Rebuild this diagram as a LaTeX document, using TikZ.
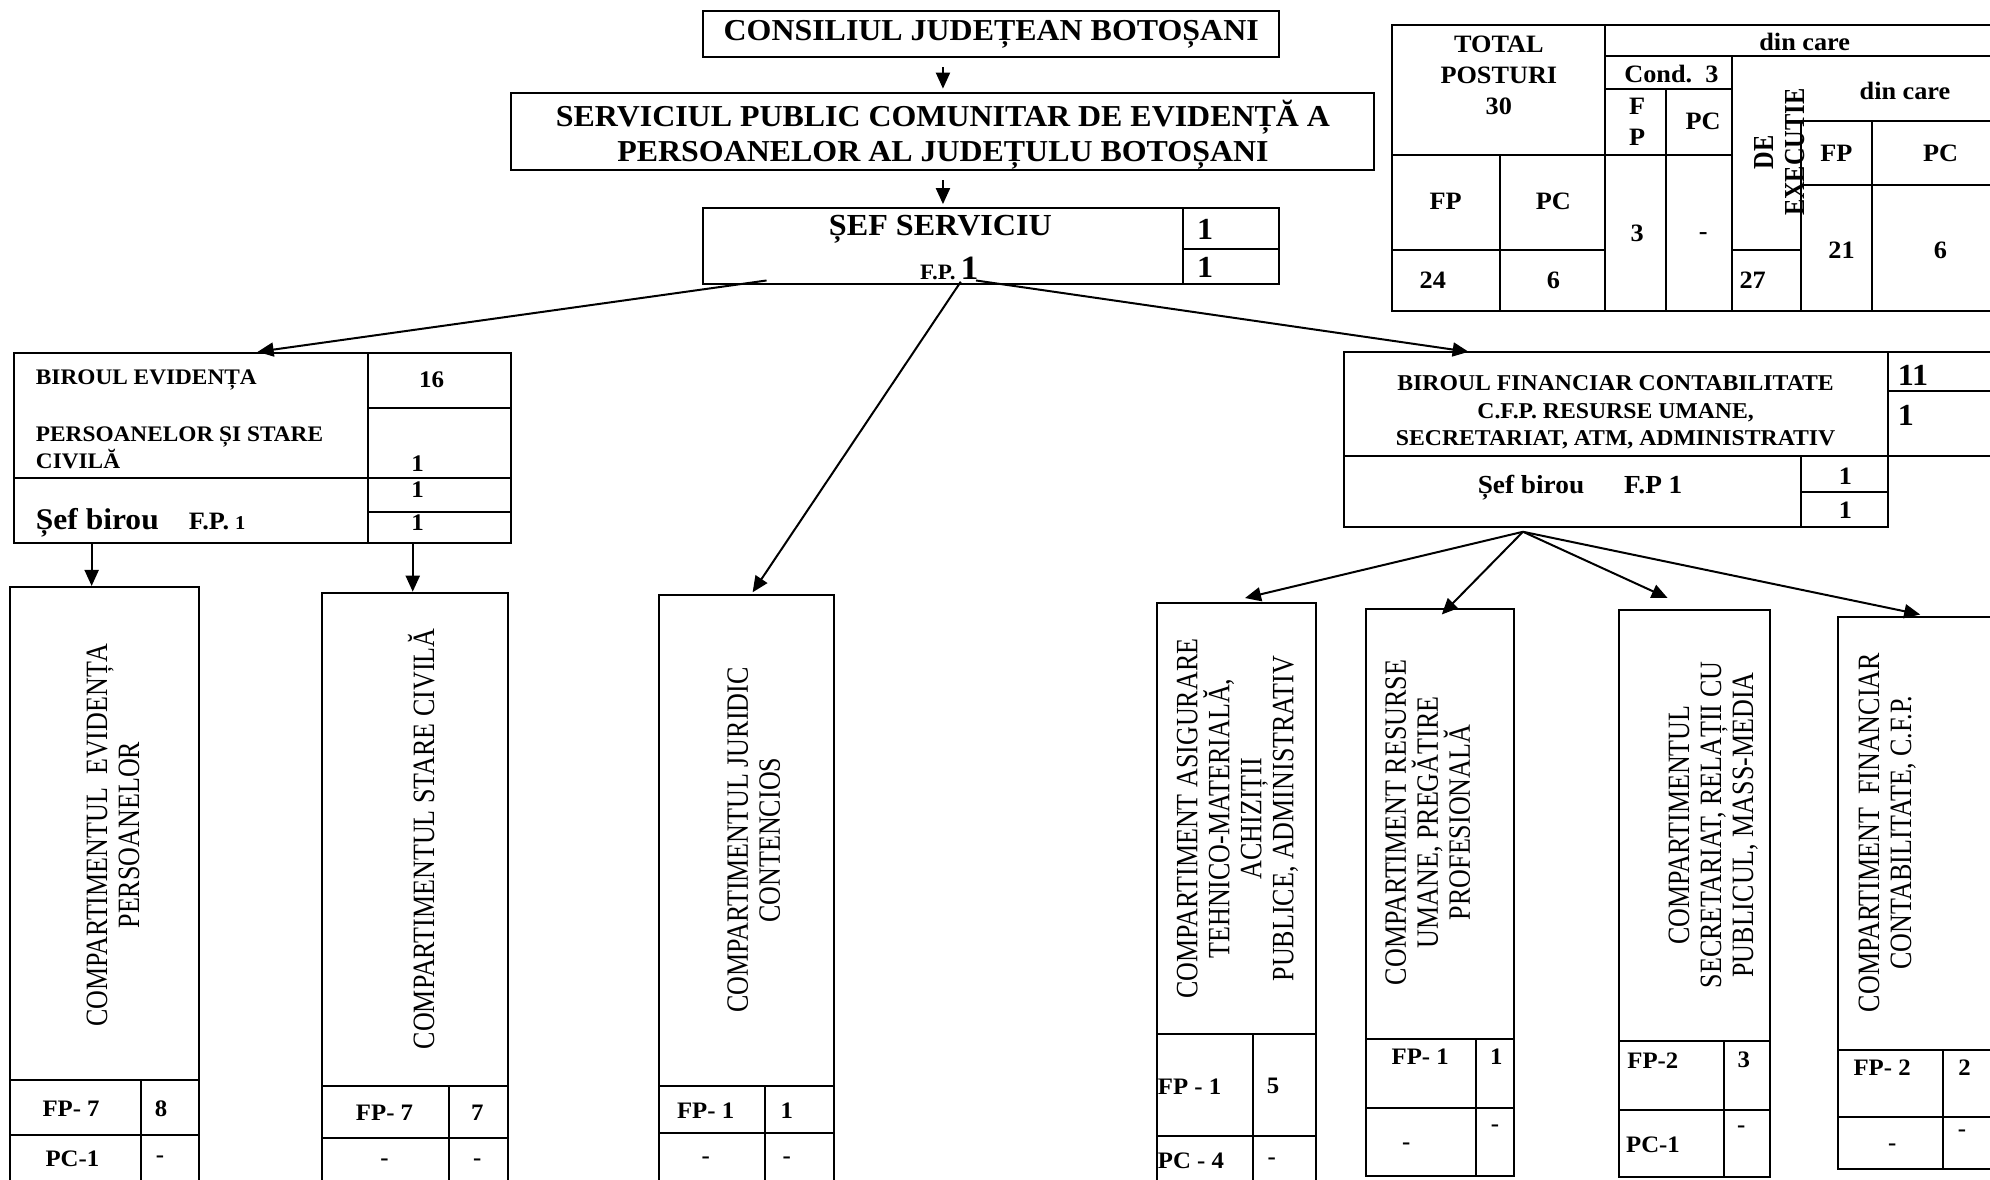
\documentclass[tikz,border=0pt]{standalone}
\usepackage{fontspec}
\setmainfont[FakeStretch=1.05]{Liberation Serif}
\newfontfamily\rotf[FakeStretch=0.84]{Liberation Serif}
\usetikzlibrary{arrows.meta,fit,calc}
\newcommand\setfz[2]{\fontsize{#1}{#2}\selectfont}
\begin{document}
\begin{tikzpicture}[x=0.6345pt,y=-0.6345pt,
  box/.style={draw, line width=1pt, inner sep=0pt},
  ln/.style={line width=1pt},
  txt/.style={inner sep=0pt, align=center},
  arr/.style={line width=1pt, -{Triangle[length=8pt,width=7pt]}},
  vt/.style={inner sep=0pt, align=center, rotate=90, font=\rotf\setfz{15.5}{16}},
  cell/.style={inner sep=0pt, font=\bfseries\setfz{11.8}{13}},
  tb/.style={inner sep=0pt, align=center, font=\bfseries\setfz{12.5}{15.5}},
]
\path[use as bounding box] (0,0) rectangle (1568,929);
\clip (0,0) rectangle (1568,929);

% ---------- top chain ----------
\node[box, fit={(554,9)(1008,45)}] (cj) {};
\node[txt, font=\bfseries\setfz{15.2}{18}] (cjt) at (781,27) {CONSILIUL JUDEȚEAN BOTOȘANI};

\node[box, fit={(403,73)(1083,134)}] (sp) {};
\node[txt, font=\bfseries\setfz{15.2}{17.5}] (spt) at (743,106) {SERVICIUL PUBLIC COMUNITAR DE EVIDENȚĂ A\\PERSOANELOR AL JUDEȚULU BOTOȘANI};

\node[box, fit={(554,164)(1008,224)}] (sef) {};
\draw[ln] (932,164) -- (932,224);
\draw[ln] (932,196) -- (1008,196);
\node[txt, font=\bfseries\setfz{15.3}{18}] (seft) at (741,181) {ȘEF SERVICIU};
\node[txt, anchor=base, font=\bfseries] (sefp) at (748,220) {\setfz{11}{13}F.P.\hspace{2.5pt}\setfz{17}{19}1};
\node[txt, anchor=west, font=\bfseries\setfz{15.3}{18}] (sefn1) at (943,181) {1};
\node[txt, anchor=west, font=\bfseries\setfz{15.3}{18}] (sefn2) at (943,211) {1};

\draw[arr, shorten <=4.5pt, shorten >=1.5pt] (cj.south -| sp.north) -- (sp.north);
\draw[arr, shorten <=4.5pt, shorten >=1.5pt] (sp.south) -- (sp.south |- sef.north);

% ---------- summary table ----------
\node[box, fit={(1097,20)(1620,245)}] (tab) {};
\draw[ln] (1265,20) -- (1265,245);
\draw[ln] (1265,44) -- (1620,44);
\draw[ln] (1265,70) -- (1365,70);
\draw[ln] (1097,122) -- (1365,122);
\draw[ln] (1182,122) -- (1182,245);
\draw[ln] (1313,70) -- (1313,245);
\draw[ln] (1365,44) -- (1365,245);
\draw[ln] (1097,197) -- (1265,197);
\draw[ln] (1365,197) -- (1419,197);
\draw[ln] (1419,95) -- (1419,245);
\draw[ln] (1419,95) -- (1620,95);
\draw[ln] (1475,95) -- (1475,245);
\draw[ln] (1419,146) -- (1620,146);
\node[tb] (tt1) at (1181,59) {TOTAL\\POSTURI\\30};
\node[tb] (tt2) at (1422,33) {din care};
\node[tb] (tt3) at (1317,58) {Cond.\ \ 3};
\node[tb] (tt4) at (1290,96) {F\\P};
\node[tb] (tt5) at (1342,96) {PC};
\node[inner sep=0pt, align=center, rotate=90, font=\rotf\bfseries\setfz{14.5}{15.5}] (tt6) at (1402,120) {DE\\EXECUTIE};
\node[tb] (tt7) at (1501,72) {din care};
\node[tb] (tt8) at (1447,121) {FP};
\node[tb] (tt9) at (1529,121) {PC};
\node[tb] (tt10) at (1451,197) {21};
\node[tb] (tt11) at (1529,197) {6};
\node[tb] (tt12) at (1139,159) {FP};
\node[tb] (tt13) at (1224,159) {PC};
\node[tb] (tt14) at (1129,221) {24};
\node[tb] (tt15) at (1224,221) {6};
\node[tb] (tt16) at (1290,184) {3};
\node[tb] (tt17) at (1342,186) {-};
\node[tb] (tt18) at (1381,221) {27};

% ---------- Biroul evidenta ----------
\node[box, fit={(11,278)(403,428)}] (b4) {};
\draw[ln] (290,278) -- (290,428);
\draw[ln] (290,321.5) -- (403,321.5);
\draw[ln] (11,376.6) -- (403,376.6);
\draw[ln] (290,403.4) -- (403,403.4);
\node[txt, anchor=west, font=\bfseries\setfz{11.1}{13}] (b4t1) at (28,299.5) {BIROUL EVIDENȚA};
\node[txt, anchor=west, align=left, font=\bfseries\setfz{11.1}{11.2}] (b4t2) at (28,352.5) {PERSOANELOR ȘI STARE\\CIVILĂ};
\node[txt, font=\bfseries\setfz{11.9}{13}] (b4n0) at (340,299.5) {16};
\node[txt, font=\bfseries\setfz{11.9}{13}] (b4n1) at (329,365) {1};
\node[txt, font=\bfseries\setfz{11.9}{13}] (b4n2) at (329,386) {1};
\node[txt, font=\bfseries\setfz{11.9}{13}] (b4n3) at (329,412) {1};
\node[txt, anchor=west, font=\bfseries] (b4s) at (28,412) {\setfz{15}{17}Șef birou\hspace{15pt}\setfz{12.5}{14}F.P.\hspace{3pt}\setfz{9.8}{11}1};

% ---------- Biroul financiar ----------
\node[box, fit={(1059,277)(1488,415)}] (b5) {};
\node[box, fit={(1488,277)(1620,359)}] (b5r) {};
\draw[ln] (1488,308) -- (1620,308);
\draw[ln] (1059,359) -- (1488,359);
\draw[ln] (1419,359) -- (1419,415);
\draw[ln] (1419,388) -- (1488,388);
\node[txt, font=\bfseries\setfz{11.3}{13.6}] (b5t) at (1273,325) {BIROUL FINANCIAR CONTABILITATE\\C.F.P. RESURSE UMANE,\\SECRETARIAT, ATM, ADMINISTRATIV};
\node[txt, font=\bfseries\setfz{13}{15}] (b5s) at (1245,384) {Șef birou\hspace{20pt}F.P 1};
\node[txt, anchor=west, font=\bfseries\setfz{15.3}{18}] (b5n1) at (1495,296) {11};
\node[txt, anchor=west, font=\bfseries\setfz{15.3}{18}] (b5n2) at (1495,327) {1};
\node[txt, font=\bfseries\setfz{12.5}{14}] (b5n3) at (1454,375) {1};
\node[txt, font=\bfseries\setfz{12.5}{14}] (b5n4) at (1454,402) {1};

% ---------- compartments ----------
\node[box, fit={(8,462.5)(157,945)}] (c1) {};
\draw[ln] (8,851) -- (157,851);
\draw[ln] (8,894) -- (157,894);
\draw[ln] (111,851) -- (111,945);
\node[vt] (c1t) at (89,658) {COMPARTIMENTUL\ \ EVIDENȚA\\PERSOANELOR};
\node[cell] (c1a) at (56,874) {FP- 7};
\node[cell] (c1b) at (127,874) {8};
\node[cell] (c1c) at (57,913) {PC-1};
\node[cell] (c1d) at (126,913) {-};

\node[box, fit={(254,467)(400,945)}] (c2) {};
\draw[ln] (254,856) -- (400,856);
\draw[ln] (254,897) -- (400,897);
\draw[ln] (354,856) -- (354,945);
\node[vt] (c2t) at (332,661) {COMPARTIMENTUL STARE CIVILĂ};
\node[cell] (c2a) at (303,877) {FP- 7};
\node[cell] (c2b) at (376,877) {7};
\node[cell] (c2c) at (303,916) {-};
\node[cell] (c2d) at (376,916) {-};

\node[box, fit={(519,468.5)(657,945)}] (c3) {};
\draw[ln] (519,856) -- (657,856);
\draw[ln] (519,893) -- (657,893);
\draw[ln] (603,856) -- (603,945);
\node[vt] (c3t) at (594,662) {COMPARTIMENTUL JURIDIC\\CONTENCIOS};
\node[cell] (c3a) at (556,875) {FP- 1};
\node[cell] (c3b) at (620,875) {1};
\node[cell] (c3c) at (556,914) {-};
\node[cell] (c3d) at (620,914) {-};

\node[box, fit={(912,475)(1037,945)}] (c4) {};
\draw[ln] (912,815) -- (1037,815);
\draw[ln] (912,895) -- (1037,895);
\draw[ln] (987,815) -- (987,945);
\node[vt] (c4t) at (975,645) {COMPARTIMENT ASIGURARE\\TEHNICO-MATERIALĂ,\\ACHIZIȚII\\PUBLICE, ADMINISTRATIV};
\node[cell, anchor=west] (c4a) at (912,856) {FP - 1};
\node[cell] (c4b) at (1003,856) {5};
\node[cell, anchor=west] (c4c) at (912,915) {PC - 4};
\node[cell] (c4d) at (1002,915) {-};

\node[box, fit={(1076,480)(1193,927)}] (c5) {};
\draw[ln] (1076,819) -- (1193,819);
\draw[ln] (1076,873) -- (1193,873);
\draw[ln] (1163,819) -- (1163,927);
\node[vt] (c5t) at (1125,648) {COMPARTIMENT RESURSE\\UMANE, PREGĂTIRE\\PROFESIONALĂ};
\node[cell] (c5a) at (1119,833) {FP- 1};
\node[cell] (c5b) at (1179,833) {1};
\node[cell] (c5c) at (1108,903) {-};
\node[cell] (c5d) at (1178,889) {-};

\node[box, fit={(1276,481)(1395,927.5)}] (c6) {};
\draw[ln] (1276,820) -- (1395,820);
\draw[ln] (1276,874.5) -- (1395,874.5);
\draw[ln] (1358,820) -- (1358,927.5);
\node[vt] (c6t) at (1350,650) {COMPARTIMENTUL\\SECRETARIAT, RELAȚII CU\\PUBLICUL, MASS-MEDIA};
\node[cell, anchor=west] (c6a) at (1282,836) {FP-2};
\node[cell] (c6b) at (1374,835) {3};
\node[cell, anchor=west] (c6c) at (1281,902) {PC-1};
\node[cell] (c6d) at (1372,890) {-};

\node[box, fit={(1448,486)(1620,921)}] (c7) {};
\draw[ln] (1448,827) -- (1620,827);
\draw[ln] (1448,880.5) -- (1620,880.5);
\draw[ln] (1531,827) -- (1531,921);
\node[vt] (c7t) at (1487,656) {COMPARTIMENT\ \ FINANCIAR\\CONTABILITATE, C.F.P.};
\node[cell] (c7a) at (1483,841) {FP- 2};
\node[cell] (c7b) at (1548,841) {2};
\node[cell] (c7c) at (1491,904) {-};
\node[cell] (c7d) at (1546,893) {-};

% ---------- connectors ----------
\coordinate (s1) at (604,221);
\coordinate (s2) at (757,222);
\coordinate (s3) at (769,221);
\draw[arr] (s1) -- ($(b4.north)+(-4,0)$);
\draw[arr] (s2) -- ($(c3.north)+(5,-1)$);
\draw[arr] (s3) -- ($(b5.north west)+(99,1)$);

\draw[arr] ($(b4.south west)+(62,0)$) -- ($(c1.north west)+(65,0)$);
\draw[arr] ($(b4.south west)+(315,0)$) -- ($(c2.north west)+(72,0)$);

\coordinate (fan) at (1200,419);
\draw[arr] (fan) -- ($(c4.north)+(6.5,-3)$);
\draw[arr] (fan) -- ($(c5.north)+(1.5,5)$);
\draw[arr] (fan) -- ($(c6.north)+(-21.5,-9)$);
\draw[arr] (fan) -- ($(c7.north)+(-21,-1)$);
\end{tikzpicture}
\end{document}
